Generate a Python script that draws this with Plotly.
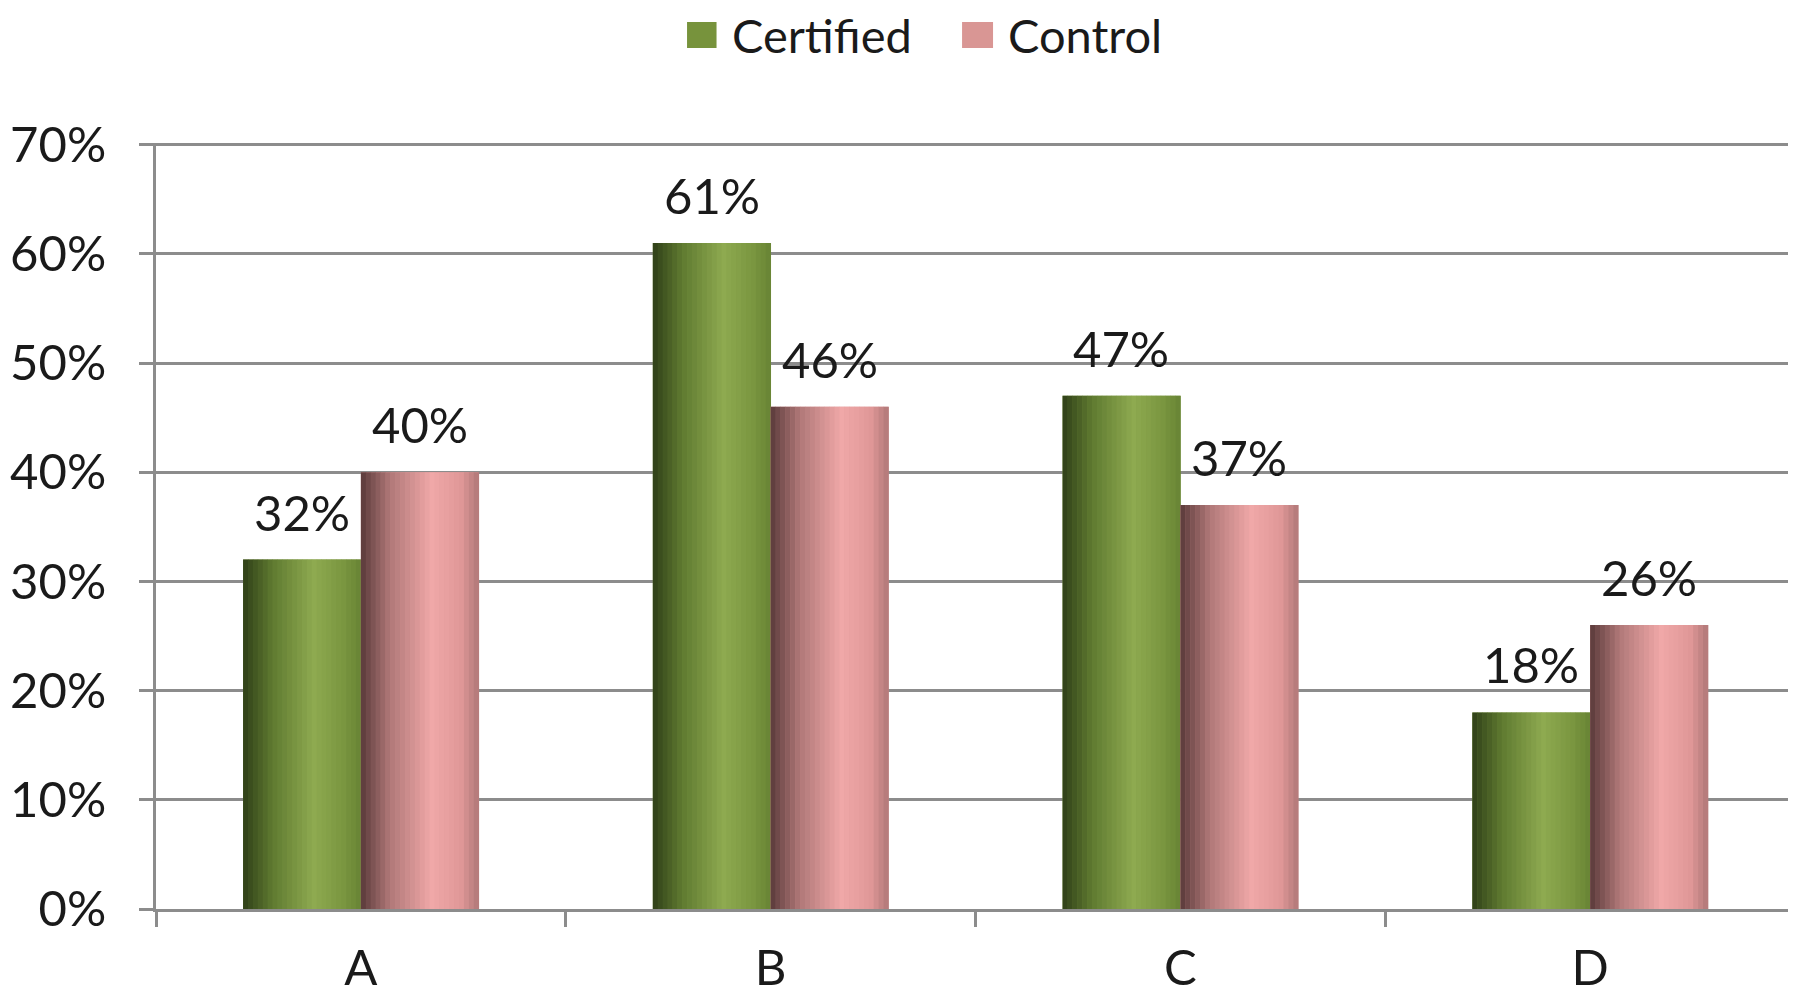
import plotly.graph_objects as go

categories = ["A", "B", "C", "D"]
certified = [0.32, 0.61, 0.47, 0.18]
control = [0.40, 0.46, 0.37, 0.26]
series_names = ["Certified", "Control"]
y_ticks = [0, 0.1, 0.2, 0.3, 0.4, 0.5, 0.6, 0.7]

GREEN_LEG = "#77933c"
PINK_LEG = "#d99694"
GRID = "#8c8c8c"
FONT = "Lato, Carlito, 'Open Sans', sans-serif"
FS = 49

# horizontal shading stops (position across bar, rgb)
GREEN_STOPS = [(0.0, (47, 63, 24)), (0.25, (95, 122, 48)), (0.6, (142, 170, 80)),
               (0.85, (122, 150, 64)), (1.0, (104, 132, 52))]
PINK_STOPS = [(0.0, (90, 58, 58)), (0.25, (176, 120, 120)), (0.6, (240, 168, 168)),
              (0.85, (224, 152, 152)), (1.0, (176, 120, 120))]

BARGAP = 0.425
bw = (1 - BARGAP) / 2
NSTRIPE = 24


def shade(stops, t):
    for (p0, c0), (p1, c1) in zip(stops, stops[1:]):
        if p0 <= t <= p1:
            f = (t - p0) / (p1 - p0)
            return "rgb(%d,%d,%d)" % tuple(round(a + (b - a) * f) for a, b in zip(c0, c1))
    return "rgb(%d,%d,%d)" % stops[-1][1]


fig = go.Figure()
for name, vals, stops, start in ((series_names[0], certified, GREEN_STOPS, -bw),
                                 (series_names[1], control, PINK_STOPS, 0.0)):
    fig.add_bar(x=categories, y=vals, name=name, marker_color=shade(stops, 0.5),
                marker_line_width=0, offset=start, width=bw, showlegend=False)
    for k in range(NSTRIPE):
        t = (k + 0.5) / NSTRIPE
        fig.add_bar(x=categories, y=vals, marker_color=shade(stops, t), marker_line_width=0,
                    offset=start + k * bw / NSTRIPE, width=bw / NSTRIPE + 0.001,
                    showlegend=False, hoverinfo="skip")

annotations = []
for i, (a, b) in enumerate(zip(certified, control)):
    for off, v in ((-bw / 2, a), (bw / 2, b)):
        annotations.append(dict(x=i + off, y=v, xref="x", yref="y", text=f"{round(v*100)}%",
                                showarrow=False, yanchor="bottom", yshift=17,
                                font=dict(size=FS, color="#1a1a1a", family=FONT)))

# legend (squares + labels) placed above the plot
legend_items = [(series_names[0], GREEN_LEG, 0.324, 0.342, 0.3505),
                (series_names[1], PINK_LEG, 0.4918, 0.5107, 0.5185)]
shapes = []
for name, col, x0, x1, xt in legend_items:
    shapes.append(dict(type="rect", xref="paper", yref="paper", x0=x0, x1=x1, y0=1.124, y1=1.158,
                       fillcolor=col, line=dict(width=0)))
    annotations.append(dict(x=xt, y=1.141, xref="paper", yref="paper", xanchor="left",
                            yanchor="middle", showarrow=False, text=name,
                            font=dict(size=FS - 2, color="#1a1a1a", family=FONT)))

fig.update_layout(
    width=1788, height=985,
    margin=dict(l=148, r=1, t=135, b=84),
    paper_bgcolor="white", plot_bgcolor="white",
    barmode="overlay",
    font=dict(family=FONT, size=FS, color="#1a1a1a"),
    annotations=annotations,
    shapes=shapes,
    showlegend=False,
)
fig.update_xaxes(showline=True, linecolor=GRID, linewidth=3, showgrid=False, automargin=False,
                 ticks="outside", tickson="boundaries", ticklen=15, tickwidth=3, tickcolor=GRID,
                 ticklabelstandoff=14, tickfont=dict(size=FS, color="#1a1a1a"))
fig.update_yaxes(range=[0, 0.7015], tickvals=y_ticks, tickformat=".0%", showline=True,
                 automargin=False,
                 linecolor=GRID, linewidth=3, showgrid=True, gridcolor=GRID, gridwidth=3,
                 zeroline=False, ticks="outside", ticklen=14, tickwidth=3, tickcolor=GRID,
                 ticklabelstandoff=23, tickfont=dict(size=FS, color="#1a1a1a"))

fig.write_html("out.html")
